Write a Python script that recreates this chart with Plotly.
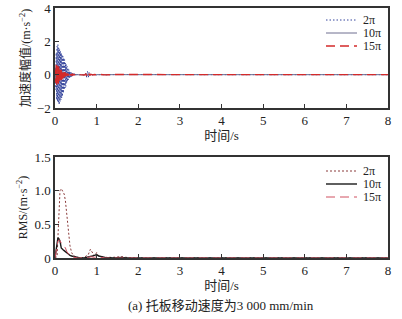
import plotly.graph_objects as go

# ---------------- data ----------------
t_acc = [0.00, 0.01, 0.02, 0.03, 0.04, 0.05, 0.06, 0.07, 0.08, 0.09,
         0.10, 0.11, 0.12, 0.13, 0.14, 0.15, 0.16, 0.17, 0.18, 0.19,
         0.20, 0.21, 0.22, 0.23, 0.24, 0.25, 0.26, 0.27, 0.28, 0.29,
         0.30, 0.31, 0.32, 0.33, 0.34, 0.35, 0.36, 0.37, 0.38, 0.39,
         0.40, 0.41, 0.42, 0.43, 0.44, 0.45, 0.46, 0.47, 0.48, 0.49,
         0.50, 0.51, 0.52, 0.53, 0.54, 0.55, 0.56, 0.57, 0.58, 0.59,
         0.60,
         0.65, 0.70, 0.74, 0.76, 0.78, 0.80, 0.82, 0.84, 0.86, 0.90,
         0.95, 1.00, 1.10, 1.20, 1.50, 2.00, 3.00, 4.00, 5.00, 6.00,
         7.00, 8.00]

acc_2pi = [0, 0.4, -0.9, 1.3, -1.5, 1.7, -1.6, 1.8, -1.7, 1.6,
           -1.8, 1.5, -1.6, 1.4, -1.5, 1.3, -1.4, 1.2, -1.3, 1.1,
           -1.1, 1.0, -0.9, 0.9, -0.8, 0.7, -0.7, 0.6, -0.5, 0.5,
           -0.4, 0.35, -0.3, 0.3, -0.25, 0.2, -0.2, 0.15, -0.15, 0.12,
           -0.1, 0.1, -0.08, 0.08, -0.06, 0.06, -0.05, 0.05, -0.04, 0.04,
           -0.03, 0.03, -0.03, 0.02, -0.02, 0.02, -0.02, 0.02, -0.01, 0.01,
           0,
           0.02, -0.03, 0.08, -0.15, 0.2, -0.18, 0.15, -0.1, 0.06, -0.03,
           0.02, -0.02, 0.01, -0.01, 0.01, 0, 0, 0, 0, 0,
           0, 0]

acc_10pi = [0, 0.2, -0.4, 0.5, -0.5, 0.45, -0.5, 0.4, -0.45, 0.4,
            -0.35, 0.35, -0.3, 0.3, -0.25, 0.25, -0.2, 0.2, -0.18, 0.15,
            -0.15, 0.12, -0.1, 0.1, -0.08, 0.08, -0.06, 0.06, -0.05, 0.05,
            -0.04, 0.04, -0.03, 0.03, -0.03, 0.02, -0.02, 0.02, -0.02, 0.01,
            -0.01, 0.01, -0.01, 0.01, 0, 0, 0, 0, 0, 0,
            0, 0, 0, 0, 0, 0, 0, 0, 0, 0,
            0,
            0, 0.01, -0.02, 0.03, -0.03, 0.02, -0.02, 0.01, 0, 0,
            0, 0, 0, 0, 0, 0, 0, 0, 0, 0,
            0, 0]

acc_15pi = [0, 0.3, -0.5, 0.6, -0.6, 0.55, -0.6, 0.5, -0.55, 0.5,
            -0.45, 0.45, -0.4, 0.4, -0.35, 0.3, -0.3, 0.25, -0.25, 0.2,
            -0.2, 0.18, -0.15, 0.15, -0.12, 0.12, -0.1, 0.1, -0.08, 0.08,
            -0.06, 0.06, -0.05, 0.05, -0.04, 0.04, -0.03, 0.03, -0.03, 0.02,
            -0.02, 0.02, -0.02, 0.02, -0.01, 0.01, -0.01, 0.01, -0.01, 0.01,
            -0.01, 0.01, -0.01, 0.01, -0.01, 0.01, -0.01, 0.01, -0.01, 0.01,
            0,
            0.01, -0.02, 0.04, -0.06, 0.07, -0.06, 0.05, -0.03, 0.02, -0.01,
            0.01, -0.01, 0.01, -0.01, 0.01, 0, 0, 0, 0, 0,
            0, 0]

t_rms = [0, 0.05, 0.07, 0.1, 0.12, 0.15, 0.18, 0.2, 0.22, 0.25,
         0.28, 0.3, 0.33, 0.36, 0.4, 0.45, 0.5, 0.55, 0.6, 0.7,
         0.8, 0.85, 0.9, 0.95, 1.0, 1.05, 1.1, 1.2, 1.4, 1.6,
         1.7, 2.0, 3.0, 4.0, 5.0, 6.0, 7.0, 8.0]

rms_2pi = [0, 0.02, 0.3, 0.85, 1.0, 1.03, 1.0, 0.97, 0.95, 0.85,
           0.65, 0.5, 0.32, 0.18, 0.08, 0.03, 0.02, 0.01, 0.0, 0.01,
           0.05, 0.13, 0.07, 0.03, 0.08, 0.03, 0.02, 0.01, 0.01, 0.02,
           0.01, 0, 0, 0, 0, 0, 0, 0]

rms_10pi = [0, 0.2, 0.3, 0.28, 0.25, 0.15, 0.12, 0.12, 0.11, 0.1,
            0.08, 0.07, 0.05, 0.04, 0.03, 0.02, 0.01, 0.005, 0, 0,
            0.01, 0.02, 0.03, 0.04, 0.05, 0.03, 0.02, 0.01, 0, 0.01,
            0, 0, 0, 0, 0, 0, 0, 0]

rms_15pi = [0, 0.15, 0.25, 0.27, 0.26, 0.22, 0.2, 0.19, 0.18, 0.15,
            0.1, 0.08, 0.05, 0.03, 0.02, 0.01, 0.005, 0, 0, 0,
            0.01, 0.02, 0.01, 0.01, 0.02, 0.01, 0.01, 0, 0, 0,
            0, 0, 0, 0, 0, 0, 0, 0]

for s in (acc_2pi, acc_10pi, acc_15pi):
    assert len(s) == len(t_acc)
for s in (rms_2pi, rms_10pi, rms_15pi):
    assert len(s) == len(t_rms)

series_names = ["2π", "10π", "15π"]
x_ticks = [0, 1, 2, 3, 4, 5, 6, 7, 8]
acc_ticks = [-2, 0, 2, 4]
acc_ticktext = ["−2", "0", "2", "4"]
rms_ticks = [0, 0.5, 1.0, 1.5]
rms_ticktext = ["0", "0.5", "1.0", "1.5"]
x_title = "时间/s"
acc_title = "加速度幅值/(m·s<sup>−2</sup>)"
rms_title = "RMS/(m·s<sup>−2</sup>)"
caption = "(a) 托板移动速度为3 000 mm/min"

# ---------------- figure ----------------
FONT = "Liberation Serif, Noto Sans CJK SC, serif"
W, H = 402, 319
ML, MR, MT, MB = 55, 14, 8, 61
PW, PH = W - ML - MR, H - MT - MB


def px_x(px):
    return (px - ML) / PW


def px_y(py):
    return (H - MB - py) / PH


fig = go.Figure()

top_styles = [dict(color="#34449c", width=1.0, dash="1.5px,2px"),
              dict(color="#6e6e90", width=1.0, dash="solid"),
              dict(color="#d42a2a", width=1.4, dash="9px,5px")]
bot_styles = [dict(color="#8a3a3a", width=1.0, dash="2px,2px"),
              dict(color="#1a1a1a", width=1.4, dash="solid"),
              dict(color="#d05060", width=1.0, dash="9px,5px")]

for name, ys, st in zip(series_names, (acc_2pi, acc_10pi, acc_15pi), top_styles):
    fig.add_trace(go.Scatter(x=t_acc, y=ys, mode="lines", name=name, line=st,
                             xaxis="x", yaxis="y", showlegend=False))
for name, ys, st in zip(series_names, (rms_2pi, rms_10pi, rms_15pi), bot_styles):
    fig.add_trace(go.Scatter(x=t_rms, y=ys, mode="lines", name=name, line=st,
                             xaxis="x2", yaxis="y2", showlegend=False))

axis_common = dict(showline=True, linecolor="#333", linewidth=1.5, mirror=True,
                   ticks="inside", ticklen=4, tickcolor="#333", showgrid=False,
                   zeroline=False, automargin=False,
                   tickfont=dict(family=FONT, size=13, color="#222"))

shapes = []
annotations = []
# compact legends (top and bottom panels)
for rows_y, styles in (([20, 33, 46], top_styles), ([171, 184, 197], bot_styles)):
    for name, ry, st in zip(series_names, rows_y, styles):
        shapes.append(dict(type="line", xref="paper", yref="paper",
                           x0=px_x(326), x1=px_x(357), y0=px_y(ry), y1=px_y(ry),
                           line=dict(color=st["color"], width=st["width"], dash=st["dash"])))
        annotations.append(dict(text=name, xref="paper", yref="paper",
                                x=px_x(362), y=px_y(ry), xanchor="left", yanchor="middle",
                                showarrow=False, borderpad=0,
                                font=dict(family=FONT, size=12, color="#222")))

annotations.append(dict(text=caption, xref="paper", yref="paper", x=px_x(221), y=px_y(305),
                        xanchor="center", yanchor="middle", showarrow=False,
                        font=dict(family=FONT, size=13, color="#222")))

fig.update_layout(
    width=W, height=H,
    margin=dict(l=ML, r=MR, t=MT, b=MB),
    plot_bgcolor="white", paper_bgcolor="white",
    font=dict(family=FONT, size=13, color="#222"),
    xaxis=dict(domain=[0, 1], anchor="y", range=[0, 8], tickvals=x_ticks,
               title=dict(text=x_title, standoff=2, font=dict(size=13)), **axis_common),
    yaxis=dict(domain=[px_y(108), 1], anchor="x", range=[-2, 4], tickvals=acc_ticks,
               ticktext=acc_ticktext,
               title=dict(text=acc_title, standoff=4, font=dict(size=12)), **axis_common),
    xaxis2=dict(domain=[0, 1], anchor="y2", range=[0, 8], tickvals=x_ticks,
                title=dict(text=x_title, standoff=2, font=dict(size=13)), **axis_common),
    yaxis2=dict(domain=[0, px_y(157)], anchor="x2", range=[0, 1.5], tickvals=rms_ticks,
                ticktext=rms_ticktext,
                title=dict(text=rms_title, standoff=4, font=dict(size=12)), **axis_common),
    showlegend=False,
    shapes=shapes,
    annotations=annotations,
)

fig.write_html("out.html")
